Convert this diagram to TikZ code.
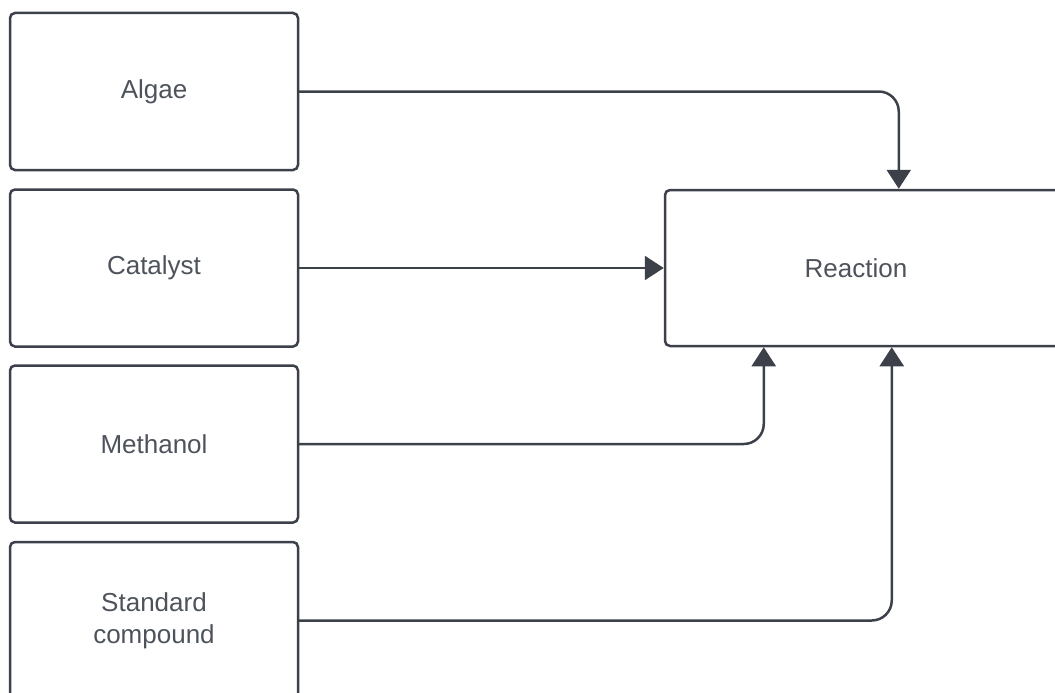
\documentclass[tikz,border=0pt]{standalone}
\usepackage{fontspec}
\setmainfont{Liberation Sans}
\usepackage{tikz}
\usetikzlibrary{arrows.meta}

\begin{document}
\begin{tikzpicture}
		[x=1pt,y=-1pt,line cap=round,
		%Styles
		input box/.style={rectangle,draw=linecolor,line width=2.5pt,rounded corners=5pt,
			minimum width=288pt,minimum height=157pt,inner sep=0pt,
			text=textcolor,font=\fontsize{26}{32}\selectfont,align=center},
		main box/.style={input box,minimum width=400pt,minimum height=156pt},
		connector/.style={draw=linecolor,line width=2.5pt,rounded corners=20pt,
			-{Triangle[width=24pt,length=19pt]}},
		elbow/.style={to path={-| (\tikztotarget)}}
		]
		
		%Colors
		\definecolor{linecolor}{HTML}{3B4049}	%borders and arrows
		\definecolor{textcolor}{HTML}{4E535B}	%labels
		
		\useasboundingbox (0,0) rectangle (1055,693);
		
		%The graphic
		\node[input box] (algae) at (154, 91.5) {Algae};
		\node[input box] (catalyst) at (154, 268) {Catalyst};
		\node[input box] (methanol) at (154, 444) {Methanol};
		\node[input box] (standard) at (154, 620.5) {Standard\\compound};
		\node[main box] (reaction) at (865, 268) {\hspace*{-18pt}Reaction};
		
		\path[every edge/.style=connector]
			(algae.east)	edge[elbow]	([xshift=235pt]reaction.north west)
			(catalyst)	edge	(reaction)
			(methanol.east)	edge[elbow]	([xshift=100pt]reaction.south west)
			(standard.east)	edge[elbow]	([xshift=228pt]reaction.south west);
	\end{tikzpicture}
\end{document}
